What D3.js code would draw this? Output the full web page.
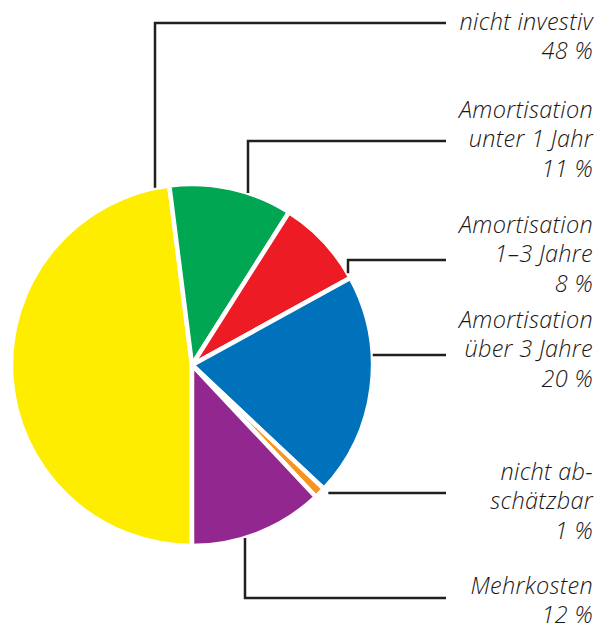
<!DOCTYPE html>
<html>
<head>
<meta charset="utf-8">
<script src="https://cdn.jsdelivr.net/npm/d3@7"></script>
<style>
  body { margin: 0; background: #fff; }
  svg { display: block; }
  .lbl { font-family: "Open Sans", "DejaVu Sans", sans-serif; font-style: italic; font-weight: 300; font-size: 23.5px; fill: #1a1718; letter-spacing: 0.3px; }
</style>
</head>
<body>
<div id="vis"></div>
<script>
// data
let categories = ['nicht investiv', 'Amortisation unter 1 Jahr', 'Amortisation 1–3 Jahre',
                  'Amortisation über 3 Jahre', 'nicht abschätzbar', 'Mehrkosten'];
let values = [48, 11, 8, 20, 1, 12];
let colors = ['#ffed00', '#00a651', '#ed1c24', '#0072bc', '#f7941d', '#92278f'];
// label text, line by line
let labelLines = [
  ['nicht investiv', '48 %'],
  ['Amortisation', 'unter 1 Jahr', '11 %'],
  ['Amortisation', '1–3 Jahre', '8 %'],
  ['Amortisation', 'über 3 Jahre', '20 %'],
  ['nicht ab-', 'schätzbar', '1 %'],
  ['Mehrkosten', '12 %']
];

let width = 600, height = 624;
let cx = 192, cy = 365, radius = 181;

// leader layout: vertical leaders drop from a given x, horizontal ones run at a given y
let leaders = [
  {type: 'v', x: 155, y: 23, gap: 0, textY: 30},
  {type: 'v', x: 248, y: 141, gap: 0, textY: 118},
  {type: 'v', x: 348, y: 260, gap: 0, textY: 233},
  {type: 'h', y: 355, gap: 0, textY: 328},
  {type: 'h', y: 493, gap: 6, textY: 480},
  {type: 'v', x: 245, y: 598, gap: 0, textY: 594, below: true}
];
let lineEndX = 446, textX = 593, lineGap = 29.3;

let svg = d3.select('#vis')
  .append('svg')
  .attr('width', width)
  .attr('height', height);

let pie = d3.pie()
  .sort(null)
  .value(d => d)
  .startAngle(Math.PI)
  .endAngle(3 * Math.PI);

let arc = d3.arc()
  .innerRadius(0)
  .outerRadius(radius);

let g = svg.append('g')
  .attr('transform', 'translate(' + cx + ',' + cy + ')');

g.selectAll('path')
  .data(pie(values))
  .enter()
  .append('path')
    .attr('d', arc)
    .attr('fill', (d, i) => colors[i])
    .attr('stroke', '#fff')
    .attr('stroke-width', 4.5)
    .attr('stroke-linejoin', 'round');

// leader lines, anchored on the pie's rim
leaders.forEach(function(l, i) {
  let pts;
  if (l.type === 'v') {
    let dx = l.x - cx;
    let dy = Math.sqrt(Math.max(0, (radius + l.gap) ** 2 - dx * dx));
    let yEdge = l.below ? cy + dy : cy - dy;
    pts = [[l.x, yEdge], [l.x, l.y], [lineEndX, l.y]];
  } else {
    let dy = l.y - cy;
    let dx = Math.sqrt(Math.max(0, (radius + l.gap) ** 2 - dy * dy));
    pts = [[cx + dx, l.y], [lineEndX, l.y]];
  }
  svg.append('path')
    .attr('d', d3.line()(pts))
    .attr('fill', 'none')
    .attr('stroke', '#231f20')
    .attr('stroke-width', 2.5);

  let t = svg.append('text')
    .attr('class', 'lbl')
    .attr('text-anchor', 'end');
  labelLines[i].forEach(function(s, j) {
    t.append('tspan')
      .attr('x', textX)
      .attr('y', l.textY + j * lineGap)
      .text(s);
  });
});
</script>
</body>
</html>
